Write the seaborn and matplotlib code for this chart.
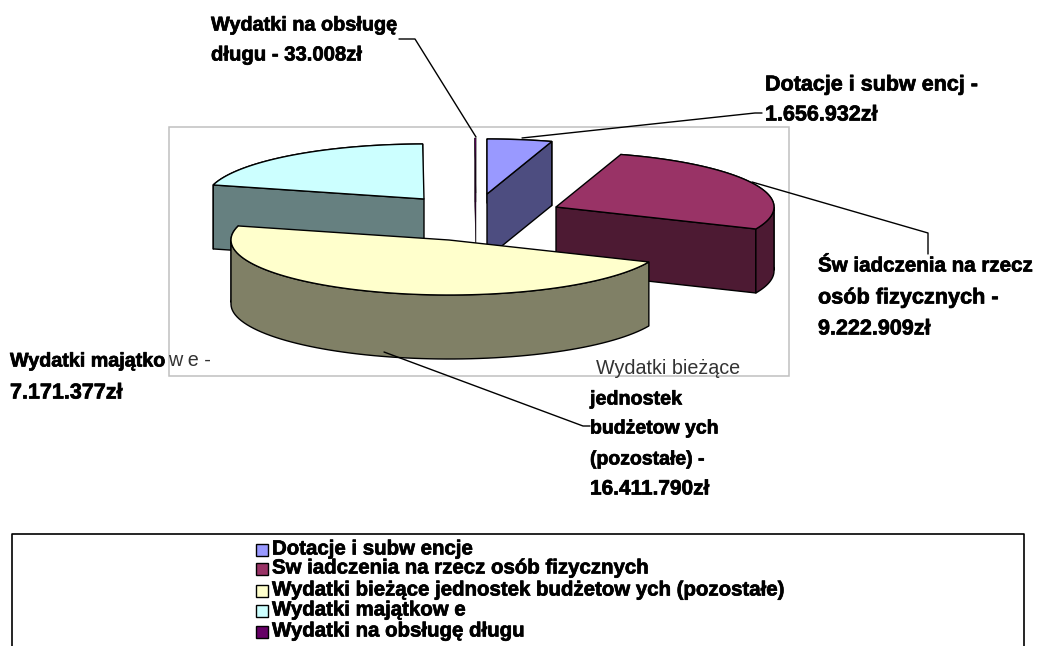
import numpy as np
import pandas as pd
import matplotlib
import matplotlib.pyplot as plt
import matplotlib.patheffects as pe
import seaborn as sns
from matplotlib.patches import Rectangle

matplotlib.use('Agg')

categories = ['Dotacje i subw encje',
              'Sw iadczenia na rzecz osób fizycznych',
              'Wydatki bieżące jednostek budżetow ych (pozostałe)',
              'Wydatki majątkow e',
              'Wydatki na obsługę długu']
values = [1656932, 9222909, 16411790, 7171377, 33008]
face_colors = ['#9999FF', '#993366', '#FFFFCC', '#CCFFFF', '#660066']

sns.set_theme(style='white')
plt.rcParams['font.family'] = ['Liberation Sans', 'DejaVu Sans']

W, H = 1037, 646
RX, RY, DEPTH = 218, 55, 64
# where each exploded slice has its tip on the page
tips = [(487, 194), (556, 207), (449, 240), (424, 199), (476, 193)]
paint_order = [3, 4, 0, 1, 2]
heavy = [pe.withStroke(linewidth=0.5, foreground='black')]

df = pd.DataFrame({'name': categories, 'value': values})
df['end'] = df['value'].cumsum() / df['value'].sum() * 2 * np.pi
df['start'] = df['end'].shift(1, fill_value=0.0)

fig = plt.figure(figsize=(W / 100, H / 100), dpi=100)
ax = fig.add_axes([0, 0, 1, 1])
ax.set_xlim(0, W)
ax.set_ylim(H, 0)
ax.set_axis_off()
sns.despine(ax=ax, left=True, bottom=True)

ax.add_patch(Rectangle((168.5, 126.5), 620, 249, fill=False, ec='#C0C0C0', lw=1.1, zorder=1))


def arc(tip, a, b):
    t = np.linspace(a, b, 80)
    return tip[0] + RX * np.sin(t), tip[1] - RY * np.cos(t), t


def wall(xs, ys, color, z, lw):
    px = np.r_[xs, xs[::-1]]
    py = np.r_[ys, ys[::-1] + DEPTH]
    ax.fill(px, py, fc=color, ec='black', lw=lw, joinstyle='round', zorder=z)


z = 2
palette = sns.color_palette(face_colors)
for i in paint_order:
    row = df.iloc[i]
    tip = tips[i]
    side = tuple(c * 0.5 for c in palette[i])
    # the tiny debt slice is only a hairline
    lw = 0.3 if i == 4 else 1.0
    xs, ys, t = arc(tip, row['start'], row['end'])
    back = np.cos(t) > 0
    # back faces first, then the faces turned to the viewer, then the top
    if back.any():
        wall(xs[back], ys[back], side, z, lw)
    z += 1
    if np.sin(row['start']) < 0:
        wall(np.array([tip[0], xs[0]]), np.array([tip[1], ys[0]]), side, z, lw)
    if np.sin(row['end']) > 0:
        wall(np.array([tip[0], xs[-1]]), np.array([tip[1], ys[-1]]), side, z, lw)
    z += 1
    if (~back).any():
        wall(xs[~back], ys[~back], side, z, lw)
    z += 1
    ax.fill(np.r_[tip[0], xs], np.r_[tip[1], ys], fc=palette[i], ec='black', lw=lw, zorder=z)
    z += 1

# leader lines
leaders = [([399, 415, 476], [39, 39, 137]),
           ([522, 755, 762], [138, 113, 113]),
           ([752, 928, 928], [182, 233, 254]),
           ([384, 583, 590], [352, 426, 426])]
for lx, ly in leaders:
    ax.plot(lx, ly, color='black', lw=1.0, zorder=z)

labels = [(211, 25, 'Wydatki na obsługę', 14.3), (211, 55, 'długu - 33.008zł', 14.6),
          (765, 85, 'Dotacje i subw encj -', 15.5), (765, 115, '1.656.932zł', 15.5),
          (818, 266, 'Św iadczenia na rzecz', 14.8), (818, 298, 'osób fizycznych -', 15.6),
          (818, 329, '9.222.909zł', 15.5),
          (10, 361, 'Wydatki majątko', 14.2), (10, 393, '7.171.377zł', 15.5),
          (590, 399, 'jednostek', 14.2), (590, 429, 'budżetow ych', 14.0), (590, 460, '(pozostałe) -', 14.0),
          (590, 489, '16.411.790zł', 15.0)]
for x, y, s, size in labels:
    ax.text(x, y, s, fontsize=size, fontweight='bold', ha='left', va='center', color='black',
            zorder=z + 1, path_effects=heavy)
ax.text(168, 361, 'w e -', fontsize=14.2, ha='left', va='center', color='#333333', zorder=z + 1)
ax.text(596, 369, 'Wydatki bieżące', fontsize=14.2, ha='left', va='center', color='#333333', zorder=z + 1)

# legend box, runs off the bottom of the page
ax.plot([11.5, 11.5, 1023.5, 1023.5], [H, 533.5, 533.5, H], color='black', lw=1.2, zorder=z)
legend_y = [550, 569, 591, 611, 632]
for name, color, y in zip(categories, palette, legend_y):
    ax.add_patch(Rectangle((256, y - 6), 12, 12, fc=color, ec='black', lw=1.0, zorder=z))
    ax.text(272, y - 1, name, fontsize=14.7, fontweight='bold', ha='left', va='center', color='black',
            zorder=z + 1, path_effects=heavy)

fig.savefig('out.png', dpi=100, facecolor='white')
